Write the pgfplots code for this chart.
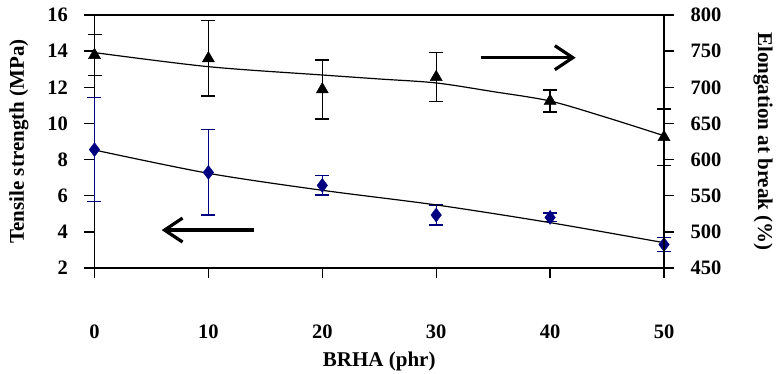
\documentclass[border=0pt]{standalone}
\usepackage{fontspec}
\setmainfont{Liberation Serif}
\usepackage{pgfplots}
\pgfplotsset{compat=1.18}
\usetikzlibrary{arrows.meta}
\definecolor{navy}{RGB}{0,0,128}
\begin{document}
\begin{tikzpicture}[font=\bfseries]
\pgfplotsset{common/.style={scale only axis, width=569.5pt, height=253pt,
  xmin=0, xmax=50, tick align=outside, major tick length=10pt,
  axis line style={line width=1.3pt}, tick style={line width=1.3pt, black},
  /pgf/number format/assume math mode=true,
  ticklabel style={font=\bfseries\fontsize{20.5}{24}\selectfont},
  label style={font=\bfseries\fontsize{21}{25}\selectfont},
  clip=false}}
\begin{axis}[common, name=ax1,
  ymin=2, ymax=16, xtick={0,10,...,50}, ytick={2,4,...,16},
  xtick pos=bottom, ytick pos=left,
  xticklabel style={anchor=center, yshift=-54pt},
  yticklabel style={xshift=-13pt},
  xlabel={BRHA (phr)}, ylabel={Tensile strength (MPa)},
  xlabel style={at={(axis description cs:0.5,-0.3676)}, anchor=center},
  ylabel style={at={(axis description cs:-0.1326,0.5)}, anchor=center}]
\addplot[only marks, mark=diamond*, mark size=7pt, color=navy,
  error bars/.cd, y dir=both, y explicit,
  error bar style={line width=1.4pt, navy},
  error mark options={rotate=90, mark size=7pt, line width=1.4pt, navy}]
  coordinates {(0,8.55) +- (0,2.87) (10,7.29) +- (0,2.36) (20,6.57) +- (0,0.54)
               (30,4.93) +- (0,0.55) (40,4.80) +- (0,0.24) (50,3.30) +- (0,0.38)};
\addplot[black, line width=1.2pt, smooth, no marks]
  coordinates {(0,8.53) (10,7.24) (20,6.3) (30,5.49) (40,4.51) (50,3.40)};
\draw[line width=3.2pt, -{Straight Barb[length=18pt, width=24pt]}] (axis cs:14,4.1) -- (axis cs:5.9,4.1);
\draw[line width=3.2pt, -{Straight Barb[length=18pt, width=24pt]}] (axis cs:33.9,13.64) -- (axis cs:42.25,13.64);
\end{axis}
\begin{axis}[common,
  ymin=450, ymax=800, ytick={450,500,...,800},
  axis x line=none, axis y line*=right,
  yticklabel style={xshift=13pt},
  ylabel={Elongation at break (\%)},
  ylabel style={at={(axis description cs:1.1738,0.5)}, anchor=center, rotate=180}]
\addplot[only marks, mark=triangle*, mark size=7pt, color=black,
  error bars/.cd, y dir=both, y explicit,
  error bar style={line width=1.4pt, black},
  error mark options={rotate=90, mark size=7pt, line width=1.4pt, black}]
  coordinates {(0,744.5) +- (0,28.5) (10,740) +- (0,52) (20,697) +- (0,41)
               (30,714) +- (0,34) (40,681) +- (0,15) (50,631) +- (0,39)};
\addplot[black, line width=1.2pt, smooth, no marks]
  coordinates {(0,748) (10,728.5) (20,717) (25,711.5) (30,706) (35,694) (40,681) (45,658) (50,633)};
\end{axis}
\pgfresetboundingbox
\path[use as bounding box] ([shift={(-94.5pt,-105pt)}]ax1.south west) rectangle ++(776pt,373pt);
\end{tikzpicture}
\end{document}
